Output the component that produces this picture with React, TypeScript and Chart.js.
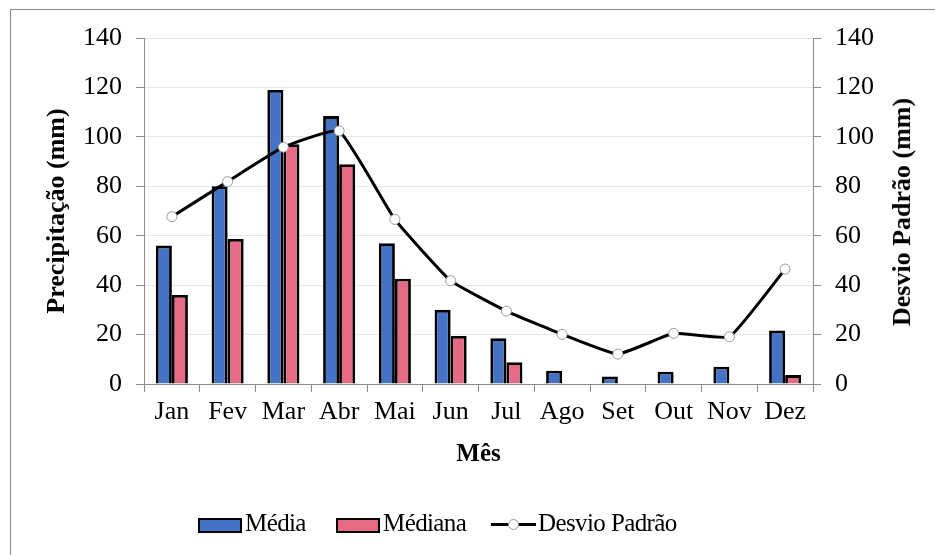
import React, { useEffect, useRef } from "react";
import { Chart, registerables } from "chart.js";

Chart.register(...registerables);

const months = ["Jan", "Fev", "Mar", "Abr", "Mai", "Jun", "Jul", "Ago", "Set", "Out", "Nov", "Dez"];
const media = [56, 80, 119, 108.4, 57, 30, 18.5, 5.4, 3, 5, 7, 21.6];
const mediana = [36, 58.7, 97, 88.9, 42.6, 19.4, 8.8, 0, 0, 0, 0, 3.6];
const desvio = [67.7, 81.9, 95.8, 102.4, 66.6, 41.8, 29.5, 20.1, 12.1, 20.5, 19.1, 46.5];
const yTicks = { min: 0, max: 140, step: 20 };

const BLUE = "#4472C4";
const PINK = "#E66A84";
const FONT = "Liberation Serif";

export default function App() {
  const ref = useRef<HTMLCanvasElement | null>(null);
  useEffect(() => {
    if (!ref.current) return;
    const chart = new Chart(ref.current, {
      type: "bar",
      data: {
        labels: months,
        datasets: [
          {
            type: "line",
            label: "Desvio Padrão",
            data: desvio,
            yAxisID: "y2",
            borderColor: "#000",
            borderWidth: 3,
            pointRadius: 5,
            pointBackgroundColor: "#fff",
            pointBorderColor: "#9a9a9a",
            pointBorderWidth: 1,
            tension: 0.12,
            order: 0,
          } as any,
          {
            label: "Média",
            data: media,
            yAxisID: "y",
            backgroundColor: BLUE,
            borderColor: "#000",
            borderWidth: 2.8,
            borderSkipped: "bottom",
            categoryPercentage: 0.575,
            barPercentage: 1,
            order: 1,
          },
          {
            label: "Médiana",
            data: mediana,
            yAxisID: "y",
            backgroundColor: PINK,
            borderColor: "#000",
            borderWidth: 2.8,
            borderSkipped: "bottom",
            categoryPercentage: 0.575,
            barPercentage: 1,
            order: 1,
          },
        ],
      },
      options: {
        animation: false,
        responsive: false,
        maintainAspectRatio: false,
        layout: { padding: { left: 40, top: 38, right: 0, bottom: 81 } },
        plugins: { legend: { display: false }, tooltip: { enabled: false } },
        scales: {
          x: {
            offset: true,
            grid: {
              offset: true,
              drawOnChartArea: false,
              drawTicks: true,
              tickLength: 8,
              tickColor: "#8c8c8c",
            },
            border: { color: "#8c8c8c", width: 1 },
            ticks: { color: "#000", font: { family: FONT, size: 26 }, padding: 5, maxRotation: 0 },
            title: {
              display: true,
              text: "Mês",
              color: "#000",
              font: { family: FONT, size: 25, weight: "bold" },
              padding: { top: 0, bottom: 4 },
            },
            afterFit: (s: any) => {
              s.height = 90;
            },
          },
          y: {
            position: "left",
            min: yTicks.min,
            max: yTicks.max,
            ticks: { stepSize: yTicks.step, color: "#000", font: { family: FONT, size: 26 }, padding: 14 },
            grid: { color: "#e6e6e6", tickColor: "#8c8c8c", tickLength: 8 },
            border: { color: "#8c8c8c", width: 1 },
            title: {
              display: true,
              text: "Precipitação (mm)",
              color: "#000",
              font: { family: FONT, size: 26, weight: "bold" },
              padding: { top: 2, bottom: 0 },
            },
            afterFit: (s: any) => {
              s.width = 104;
            },
          },
          y2: {
            position: "right",
            min: yTicks.min,
            max: yTicks.max,
            ticks: { stepSize: yTicks.step, color: "#000", font: { family: FONT, size: 26 }, padding: 14 },
            grid: { drawOnChartArea: false, tickColor: "#8c8c8c", tickLength: 8 },
            border: { color: "#8c8c8c", width: 1 },
            afterFit: (s: any) => {
              s.width = 122;
            },
          },
        },
      },
    });
    return () => chart.destroy();
  }, []);

  const legendText: React.CSSProperties = {
    position: "absolute",
    top: 507,
    fontFamily: "'Liberation Serif', serif",
    fontSize: 25,
    lineHeight: "32px",
    color: "#000",
    whiteSpace: "nowrap",
    letterSpacing: "-0.6px",
  };
  const box = (left: number, color: string): React.CSSProperties => ({
    position: "absolute",
    left,
    top: 518,
    width: 40,
    height: 11,
    background: color,
    border: "2.5px solid #000",
  });

  return (
    <div style={{ position: "fixed", left: 0, top: 0, width: 935, height: 555, background: "#fff", overflow: "hidden" }}>
      <div
        style={{
          position: "absolute",
          left: 10,
          top: 9,
          width: 940,
          height: 560,
          borderLeft: "1.5px solid #8a8a8a",
          borderTop: "1.5px solid #8a8a8a",
        }}
      />
      <canvas ref={ref} width={935} height={555} style={{ position: "absolute", left: 0, top: 0 }} />
      <div
        style={{
          position: "absolute",
          left: 902,
          top: 212,
          transform: "translate(-50%, -50%) rotate(-90deg)",
          fontFamily: "'Liberation Serif', serif",
          fontSize: 26,
          fontWeight: "bold",
          whiteSpace: "nowrap",
          color: "#000",
        }}
      >
        Desvio Padrão (mm)
      </div>
      <div style={box(198, BLUE)} />
      <div style={{ ...legendText, left: 245 }}>Média</div>
      <div style={box(336, PINK)} />
      <div style={{ ...legendText, left: 383 }}>Médiana</div>
      <div style={{ position: "absolute", left: 491, top: 523, width: 45, height: 3, background: "#000" }} />
      <div
        style={{
          position: "absolute",
          left: 508,
          top: 519,
          width: 9,
          height: 9,
          borderRadius: "50%",
          background: "#fff",
          border: "1px solid #9a9a9a",
        }}
      />
      <div style={{ ...legendText, left: 538 }}>Desvio Padrão</div>
    </div>
  );
}
